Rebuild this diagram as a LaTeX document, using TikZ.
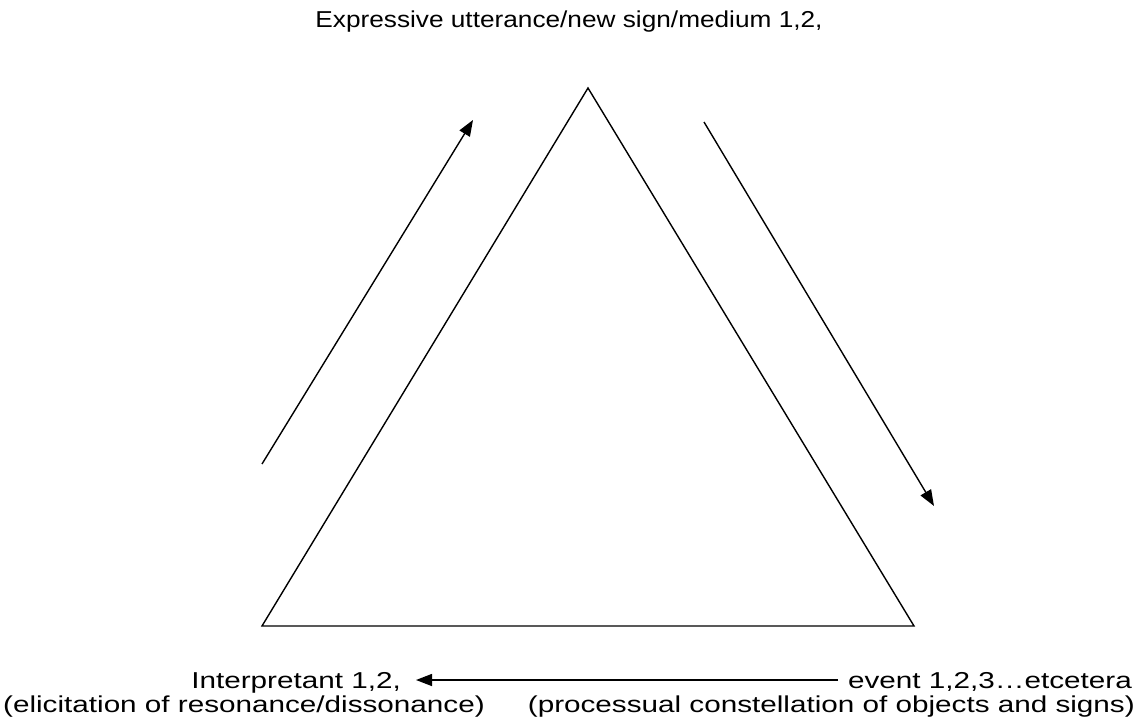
\documentclass[tikz,border=0pt]{standalone}
\usepackage{fontspec}
\usepackage{graphicx}
\setmainfont{Liberation Sans}
\usetikzlibrary{arrows.meta}
\newcommand{\wideT}[1]{\scalebox{1.14}[1]{#1}}
\newcommand{\wideB}[1]{\scalebox{1.29}[1]{#1}}
\begin{document}
\begin{tikzpicture}[x=1pt,y=-1pt,
  edge/.style={line width=1.4pt},
  arr/.style={line width=1.4pt,-{Triangle[length=16pt,width=12pt]}},
  lbl/.style={inner sep=0pt,font=\fontsize{23}{27}\selectfont}]
\useasboundingbox (0,0) rectangle (1136,722);
% triangle corners
\coordinate (apex) at (588,88);
\coordinate (bl) at (262,626);
\coordinate (br) at (914,626);
\draw[edge,line join=miter] (apex) -- (br) -- (bl) -- cycle;
% side arrows
\coordinate (a1s) at (262,464);
\coordinate (a1e) at (473,120);
\draw[arr] (a1s) -- (a1e);
\coordinate (a2s) at (704,122);
\coordinate (a2e) at (934,506);
\draw[arr] (a2s) -- (a2e);
% labels
\node[lbl,anchor=base] (top) at (569,28) {\wideT{Expressive utterance/new sign/medium 1,2,}};
\node[lbl,anchor=base east] (interp) at (401,688) {\wideB{Interpretant 1,2,}};
\node[lbl,anchor=base west] (interp2) at (3,712) {\wideB{(elicitation of resonance/dissonance)}};
\node[lbl,anchor=base east] (event) at (1132,688) {\wideB{event 1,2,3…etcetera}};
\node[lbl,anchor=base east] (event2) at (1135,712) {\wideB{(processual constellation of objects and signs)}};
\coordinate (bs) at (838,680);
\coordinate (be) at (416,680);
\draw[arr] (bs) -- (be);
\end{tikzpicture}
\end{document}
